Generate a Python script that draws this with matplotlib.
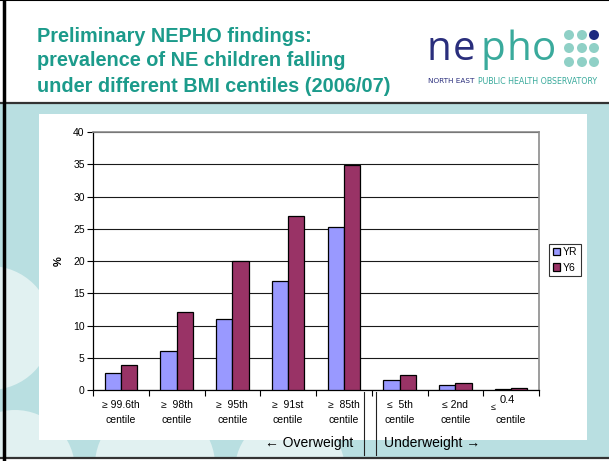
import matplotlib
matplotlib.use("Agg")
import matplotlib.pyplot as plt
import numpy as np
from matplotlib.patches import Rectangle, Circle
from matplotlib.lines import Line2D
from matplotlib.transforms import Affine2D, blended_transform_factory

plt.rcParams['font.family'] = ['Liberation Sans', 'DejaVu Sans']

# ---- data ----
categories = ["≥ 99.6th\ncentile", "≥  98th\ncentile", "≥  95th\ncentile",
              "≥  91st\ncentile", "≥  85th\ncentile", "≤  5th\ncentile",
              "≤ 2nd\ncentile", ""]
last_label_parts = ["≤", "0.4", "centile"]
yr_values = [2.6, 6.1, 11.0, 16.9, 25.2, 1.5, 0.7, 0.1]
y6_values = [3.8, 12.1, 20.0, 26.9, 34.9, 2.4, 1.1, 0.25]
series_names = ["YR", "Y6"]
yticks = [0, 5, 10, 15, 20, 25, 30, 35, 40]

W, H = 609, 461
fig = plt.figure(figsize=(W / 100, H / 100), dpi=100)
fig.patch.set_facecolor('white')
# pixel transform (origin top-left)
px = Affine2D().scale(1 / W, -1 / H).translate(0, 1) + fig.transFigure

TEAL_BG = '#b9dfe1'
LIGHT = '#e1f1f1'
TITLE_C = '#1c9b8b'

# slide background
bg = Rectangle((0, 104), W, 353, transform=px, facecolor=TEAL_BG, edgecolor='none', zorder=-20)
fig.patches.append(bg)
for (cx, cy, r) in [(-10, 328, 62), (15, 470, 60), (155, 465, 60), (290, 470, 55)]:
    c = Circle((cx, cy), r, transform=px, facecolor=LIGHT, edgecolor='none', zorder=-19)
    c.set_clip_path(bg)
    fig.patches.append(c)
fig.patches.append(Rectangle((39, 114), 548, 326, transform=px, facecolor='white',
                             edgecolor='none', zorder=-18))
# borders
fig.lines.append(Line2D([0, W], [103, 103], transform=px, color='#333333', lw=1.6, zorder=-5))
fig.lines.append(Line2D([0, W], [458, 458], transform=px, color='#333333', lw=1.6, zorder=-5))
fig.lines.append(Line2D([4, 4], [0, H], transform=px, color='black', lw=2.5, zorder=-5))
fig.lines.append(Line2D([0, W], [0.5, 0.5], transform=px, color='black', lw=1.5, zorder=-5))

# title
title_lines = ["Preliminary NEPHO findings:", "prevalence of NE children falling",
               "under different BMI centiles (2006/07)"]
for i, t in enumerate(title_lines):
    fig.text(37 / W, 1 - (36 + 25 * i) / H, t, fontsize=14.3, fontweight='bold',
             color=TITLE_C, va='center', ha='left')

# logo
logo_letters = ["n", "e", "p", "h", "o"]
logo_x = [427, 453, 480, 506, 532]
for ch, lx in zip(logo_letters, logo_x):
    col = '#2a2e7c' if ch in "ne" else '#3aaa9c'
    fig.text(lx / W, 1 - 60 / H, ch, fontsize=29, color=col, family='Open Sans',
             va='baseline', ha='left')
for ri, yy in enumerate([35, 48, 62]):
    for ci, xx in enumerate([569, 582, 594]):
        col = '#1d2a80' if (ri == 0 and ci == 2) else '#8fd0c6'
        fig.patches.append(Circle((xx, yy), 5, transform=px, facecolor=col, edgecolor='none'))
fig.text(428 / W, 1 - 81 / H, "NORTH EAST", fontsize=5.2, color='#2a2e7c',
         va='center', ha='left', family='DejaVu Sans')
fig.text(478 / W, 1 - 81 / H, "PUBLIC HEALTH OBSERVATORY", fontsize=5.7, color='#3aaa9c',
         va='center', ha='left', family='DejaVu Sans')

# axes
left, right, top, bottom = 93, 539, 132, 390
ax = fig.add_axes([left / W, 1 - bottom / H, (right - left) / W, (bottom - top) / H])
x = np.arange(len(categories))
bw = 0.29
ax.bar(x - bw / 2, yr_values, bw, color='#9999ff', edgecolor='black', lw=0.9,
       label=series_names[0], zorder=3)
ax.bar(x + bw / 2, y6_values, bw, color='#993366', edgecolor='black', lw=0.9,
       label=series_names[1], zorder=3)
ax.set_xlim(-0.5, len(categories) - 0.5)
ax.set_ylim(0, 40)
ax.set_yticks(yticks)
ax.yaxis.grid(True, color='#1a1a1a', lw=0.8, zorder=0)
ax.set_axisbelow(True)
ax.tick_params(axis='y', direction='out', length=4, width=0.8, labelsize=7.5, pad=2)
ax.set_xticks(x)
ax.set_xticklabels(categories, fontsize=7.5, linespacing=1.65)
ax.set_xticks(np.arange(-0.5, len(categories)), minor=True)
ax.tick_params(axis='x', which='major', length=0, pad=7)
ax.tick_params(axis='x', which='minor', direction='out', length=4, width=0.8)
for s in ['top', 'right']:
    ax.spines[s].set_color('#8c8c8c')
    ax.spines[s].set_linewidth(1.2)
for s in ['left', 'bottom']:
    ax.spines[s].set_color('black')
    ax.spines[s].set_linewidth(0.9)
ax.set_ylabel('%', fontsize=8, fontweight='bold', labelpad=7)

# last category special label
bt = blended_transform_factory(ax.transData, ax.transAxes)
k = len(categories) - 1
ax.text(k - 0.36, -0.066, last_label_parts[0], transform=bt, fontsize=6.5,
        ha='left', va='center')
ax.text(k - 0.2, -0.04, last_label_parts[1], transform=bt, fontsize=8,
        ha='left', va='center')
ax.text(k, -0.117, last_label_parts[2], transform=bt, fontsize=7.5,
        ha='center', va='center')

# legend
leg = ax.legend(loc='center left', bbox_to_anchor=(549 / W, 1 - 260 / H),
                bbox_transform=fig.transFigure, fontsize=7.5, frameon=True, fancybox=False,
                handlelength=0.7, handleheight=0.7, handletextpad=0.3, borderpad=0.35,
                labelspacing=0.5, borderaxespad=0)
leg.get_frame().set_edgecolor('black')
leg.get_frame().set_linewidth(0.8)

# overweight / underweight annotations
fig.text(353 / W, 1 - 443 / H, "← Overweight", fontsize=10, ha='right', va='center')
fig.text(384 / W, 1 - 443 / H, "Underweight →", fontsize=10, ha='left', va='center')
fig.lines.append(Line2D([364, 364], [392, 455], transform=px, color='#222222', lw=0.8))
fig.lines.append(Line2D([375.5, 375.5], [392, 455], transform=px, color='#222222', lw=0.8))

fig.savefig('out.png', dpi=100)
